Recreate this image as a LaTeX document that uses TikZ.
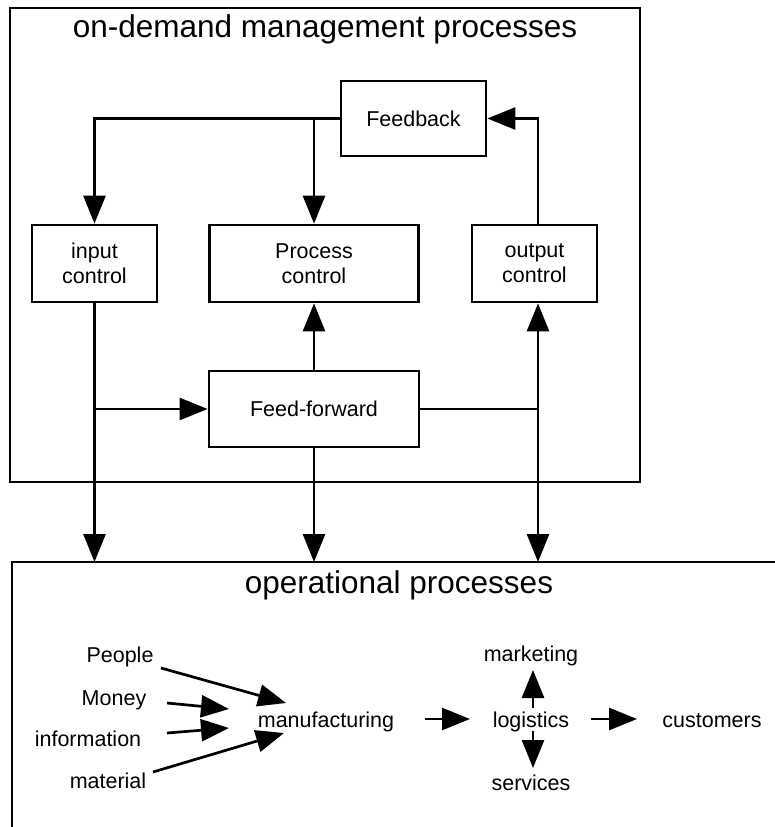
\documentclass[tikz,border=0pt]{standalone}
\usepackage{fontspec}
\setmainfont{Liberation Sans}
\usetikzlibrary{arrows.meta}
\begin{document}
\begin{tikzpicture}[x=1pt,y=-1pt,
  line width=2.7pt,
  box/.style={draw, rectangle, inner sep=0pt, align=center, font=\fontsize{21.5}{25}\selectfont},
  lbl/.style={inner sep=0pt, font=\fontsize{21.5}{25}\selectfont, text height=15.5pt, text depth=4.5pt},
  ttl/.style={inner sep=0pt, font=\fontsize{31.5}{36}\selectfont, text height=23pt, text depth=6.5pt},
  arr/.style={-{Triangle[length=28pt,width=22pt]}},
  arrb/.style={{Triangle[length=28pt,width=22pt]}-{Triangle[length=28pt,width=22pt]}}
]
\useasboundingbox (0,0) rectangle (775,827);

% frames
\draw (10,8) rectangle (640,482);
\draw (790,562) -- (12,562) -- (12,840);
\coordinate (opt) at (0,562);

% titles
\node[ttl] (t1) at (325,29) {on-demand management processes};
\node[ttl] (t2) at (399,585) {operational processes};

% upper boxes
\node[box, minimum width=145pt, minimum height=75pt] (fb) at (413.5,118.5) {Feedback};
\node[box, minimum width=125pt, minimum height=77pt] (ic) at (94.5,263.5) {input\\control};
\node[box, minimum width=209pt, minimum height=77pt] (pc) at (314,263.5) {Process\\control};
\node[box, minimum width=125pt, minimum height=77pt] (oc) at (534.5,263.5) {output\\control};
\node[box, minimum width=210pt, minimum height=76pt] (ff) at (314,409) {Feed-forward};

% feedback connectors
\draw[arr] (fb.west) -| (ic.north);
\draw[arr] (fb.west -| pc.north) -- (pc.north);
\draw[arr] ([xshift=3.5pt]oc.north) |- (fb.east);

% feed-forward connectors
\draw[arr] (ic.south) -- (ic.south |- opt);
\draw[arr] (ic.south |- ff.west) -- (ff.west);
\draw[arr] (ff.north) -- (pc.south);
\draw[arr] (ff.south) -- (ff.south |- opt);
\coordinate (rj) at ([xshift=3.5pt]oc.south);
\draw[arrb] (rj) -- (rj |- opt);
\draw (ff.east) -- (ff.east -| rj);

% operational processes
\node[lbl] (people) at (120,657) {People};
\node[lbl] (money) at (114,699.5) {Money};
\node[lbl] (info) at (88,741) {information};
\node[lbl] (mat) at (108,782.5) {material};
\node[lbl] (manu) at (326,721.5) {manufacturing};
\node[lbl] (logi) at (531,721.5) {logistics};
\node[lbl] (cust) at (712,721.5) {customers};
\node[lbl] (mark) at (531,656) {marketing};
\node[lbl] (serv) at (531,784.5) {services};

\coordinate (pe1) at (161,668);  \coordinate (pe2) at (286,703);
\coordinate (mo1) at (167,703);  \coordinate (mo2) at (229,709);
\coordinate (in1) at (167,733);  \coordinate (in2) at (229,728);
\coordinate (ma1) at (153,772);  \coordinate (ma2) at (284,733);
\draw[arr] (pe1) -- (pe2);
\draw[arr] (mo1) -- (mo2);
\draw[arr] (in1) -- (in2);
\draw[arr] (ma1) -- (ma2);

\coordinate (ml1) at (425,719);  \coordinate (ml2) at (470,719);
\coordinate (lc1) at (591,719);  \coordinate (lc2) at (637,719);
\coordinate (lu1) at (533,708);  \coordinate (lu2) at (533,670);
\coordinate (ld1) at (533,731);  \coordinate (ld2) at (533,768);
\draw[arr] (ml1) -- (ml2);
\draw[arr] (lc1) -- (lc2);
\draw[arr] (lu1) -- (lu2);
\draw[arr] (ld1) -- (ld2);
\end{tikzpicture}
\end{document}
